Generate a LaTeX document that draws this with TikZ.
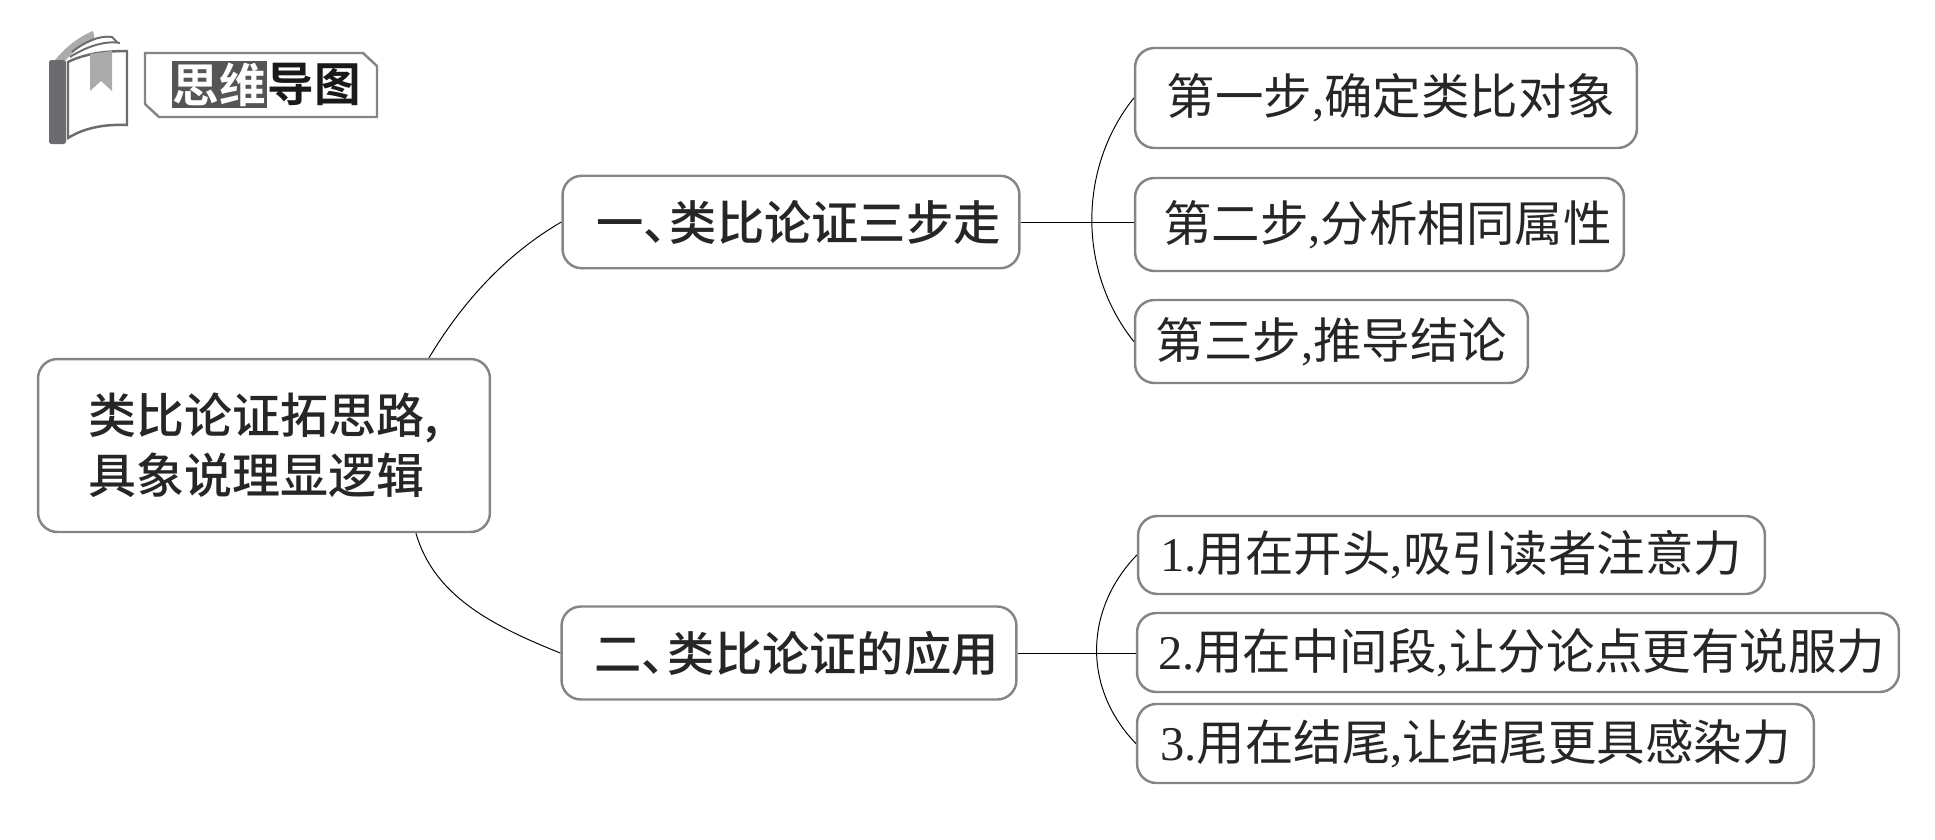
\documentclass[tikz,border=0pt]{standalone}
\usepackage{fontspec}
\setmainfont{Liberation Serif}
\newfontfamily\cjk[BoldFont={Noto Sans CJK SC Medium}]{Noto Sans CJK SC}
\newfontfamily\cjkheavy{Noto Sans CJK SC Bold}
\usetikzlibrary{calc}
\definecolor{boxline}{HTML}{858585}
\definecolor{bookdark}{HTML}{6B6B70}
\definecolor{booklight}{HTML}{ABABAB}
\definecolor{tagdark}{HTML}{555555}
\newcommand{\lat}[1]{{\rmfamily #1}}
\tikzset{
    mapbox/.style={draw=boxline, line width=1.4pt, rounded corners=11pt, inner sep=0pt,
        text=black!85, font=\cjk\fontsize{27.6}{34}\selectfont},
    headbox/.style={mapbox, font=\cjk\bfseries\fontsize{27.3}{34}\selectfont},
    branchbox/.style={mapbox, font=\cjk\bfseries\fontsize{26.9}{34}\selectfont},
    linkline/.style={black, line width=0.55pt},
    headword/.style={inner sep=0pt, minimum height=0.94cm, font=\cjkheavy\fontsize{26.5}{30}\selectfont}
}
\begin{document}
\begin{tikzpicture}[x=0.02cm, y=-0.02cm]
    \useasboundingbox (0,0) rectangle (1935,839);
    % Book icon
    \fill [booklight] (55,60) .. controls (66,47) and (78,37) .. (93,31) -- (95,40) .. controls (84,44) and (74,50) .. (66,60) -- cycle;
    \draw [bookdark, line width=1.1pt] (72,52) .. controls (84,42) and (100,35) .. (112,37) -- (117,42);
    \draw [bookdark, line width=1.1pt] (70,57) .. controls (84,48) and (104,40) .. (120,43);
    \draw [bookdark, line width=1.4pt, fill=white] (68,62) .. controls (84,54) and (104,51) .. (127,51) -- (127,125) .. controls (104,124) and (84,128) .. (68,138) -- cycle;
    \fill [booklight] (90,54) -- (112,51) -- (112,91) -- (101,81) -- (90,91) -- cycle;
    \fill [bookdark, rounded corners=1pt] (49,60) rectangle (66,144);
    % Title tag
    \draw [boxline, line width=1.4pt] (145,53) -- (363,53) -- (377,66) -- (377,117) -- (159,117) -- (145,104) -- cycle;
    \node [headword, fill=tagdark, text=white, minimum width=1.9cm] (thinkword) at (219.5,84.5) {思维};
    \node [headword, text=black!90, minimum width=1.8cm] (guideword) at (314,84.5) {导图};
    % Boxes
    \node [headbox, minimum width=9.04cm, minimum height=3.46cm, align=left] (root) at (264,445.5) {类比论证拓思路,\\具象说理显逻辑};
    \node [branchbox, minimum width=9.14cm, minimum height=1.85cm] (brancha) at (791,222) {\hspace{0.3cm}一、\kern-0.45em 类比论证三步走};
    \node [branchbox, minimum width=9.1cm, minimum height=1.86cm] (branchb) at (789,653) {\hspace{0.3cm}二、\kern-0.45em 类比论证的应用};
    \node [mapbox, minimum width=10.04cm, minimum height=2cm] (stepa) at (1386,98) {\hspace{0.2cm}第一步\lat{,}确定类比对象};
    \node [mapbox, minimum width=9.78cm, minimum height=1.86cm] (stepb) at (1379.5,224.5) {\hspace{0.32cm}第二步\lat{,}分析相同属性};
    \node [mapbox, minimum width=7.86cm, minimum height=1.66cm] (stepc) at (1331.5,341.5) {第三步\lat{,}推导结论};
    \node [mapbox, minimum width=12.54cm, minimum height=1.56cm] (usea) at (1451.5,555) {\lat{1.}用在开头\lat{,}吸引读者注意力};
    \node [mapbox, minimum width=15.24cm, minimum height=1.58cm] (useb) at (1518,652.5) {\hspace{0.15cm}\lat{2.}用在中间段\lat{,}让分论点更有说服力};
    \node [mapbox, minimum width=13.54cm, minimum height=1.58cm] (usec) at (1475.5,743.5) {\lat{3.}用在结尾\lat{,}让结尾更具感染力};
    % Connectors
    \draw [linkline] (root.28.5) .. controls +(30,-50) and +(-60,35) .. (brancha.west);
    \draw [linkline] (root.-30) .. controls +(18,62) and +(-70,-28) .. (branchb.west);
    \draw [linkline] (brancha.east) -- (brancha.east -| stepb.west);
    \draw [linkline] (branchb.east) -- (branchb.east -| useb.west);
    \draw [linkline] (stepa.west) .. controls +(-56,70) and +(-56,-70) .. (stepc.west);
    \draw [linkline] (usea.west) .. controls +(-53,55) and +(-53,-55) .. (usec.west);
\end{tikzpicture}
\end{document}
